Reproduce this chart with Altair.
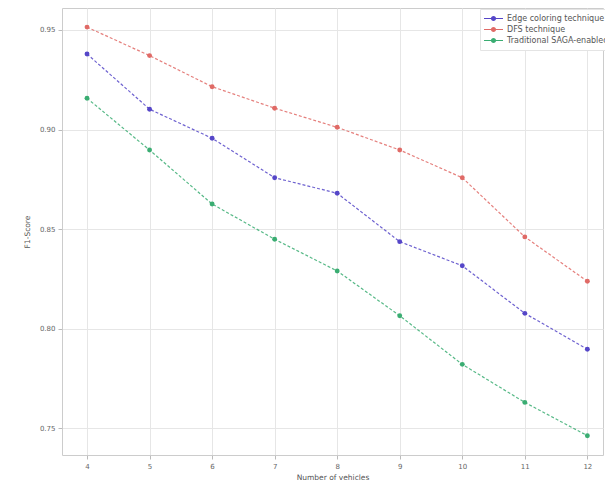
import altair as alt
import pandas as pd

vehicles = [4, 5, 6, 7, 8, 9, 10, 11, 12]
series_names = ["Edge coloring technique", "DFS technique", "Traditional SAGA-enabled technique"]
edge_coloring = [0.9379, 0.9102, 0.8956, 0.8758, 0.8680, 0.8437, 0.8316, 0.8077, 0.7897]
dfs = [0.9514, 0.9371, 0.9215, 0.9107, 0.9011, 0.8897, 0.8758, 0.8461, 0.8238]
saga = [0.9157, 0.8897, 0.8626, 0.8449, 0.8290, 0.8065, 0.7821, 0.7630, 0.7463]
y_ticks = [0.75, 0.80, 0.85, 0.90, 0.95]

rows = []
for name, vals in zip(series_names, [edge_coloring, dfs, saga]):
    for v, f in zip(vehicles, vals):
        rows.append({"vehicles": v, "score": f, "series": name})
df = pd.DataFrame(rows)

line_colors = ["#5546c8", "#e06a66", "#3aad72"]
color_scale = alt.Scale(domain=series_names, range=line_colors)

# legend handle: short line with a dot in the middle
handle = ("M-1,-0.05H1V0.05H-1Z "
          "M0.27,0A0.27,0.27 0 1,1 -0.27,0A0.27,0.27 0 1,1 0.27,0Z")

legend = alt.Legend(title=None, orient="none", legendX=418, legendY=1,
                    symbolType=handle, symbolSize=361, symbolStrokeWidth=0,
                    symbolOpacity=1, clipHeight=11,
                    labelFontSize=8, labelColor="#555", labelOffset=4,
                    rowPadding=0, fillColor="white",
                    strokeColor="#e4e4e4", padding=4,
                    labelLimit=300)

x_enc = alt.X("vehicles:Q", scale=alt.Scale(domain=[3.6, 12.25], nice=False, zero=False),
              axis=alt.Axis(values=vehicles, title="Number of vehicles", format="d"))
y_enc = alt.Y("score:Q", scale=alt.Scale(domain=[0.7366, 0.961], nice=False, zero=False),
              axis=alt.Axis(values=y_ticks, format=".2f", title="F1-Score"))
c_enc = alt.Color("series:N", scale=color_scale, sort=series_names, legend=legend)

base = alt.Chart(df)
lines = base.mark_line(strokeDash=[3, 2], strokeWidth=1.2, opacity=0.85).encode(
    x=x_enc, y=y_enc, color=c_enc, detail="series:N",
)
points = base.mark_point(filled=True, size=24, opacity=1, shape="circle").encode(
    x=x_enc, y=y_enc, color=c_enc,
)

chart = (lines + points).properties(
    width=541, height=447,
    autosize=alt.AutoSizeParams(type="none"),
    padding={"left": 62, "top": 8, "right": 2, "bottom": 30},
).configure_view(
    stroke="#cccccc", strokeWidth=1
).configure_axis(
    grid=True, gridColor="#e6e6e6", gridWidth=1,
    domain=False, tickColor="#bbbbbb", tickSize=4,
    labelFont="DejaVu Sans", titleFont="DejaVu Sans",
    labelFontSize=7, titleFontSize=7.5, labelColor="#666", titleColor="#555",
    titleFontWeight="normal", labelPadding=3,
).configure_axisY(titlePadding=8).configure_axisX(titlePadding=4).configure_legend(
    labelFont="DejaVu Sans"
)

chart.save("out.html", embed_options={"renderer": "svg", "actions": False})
